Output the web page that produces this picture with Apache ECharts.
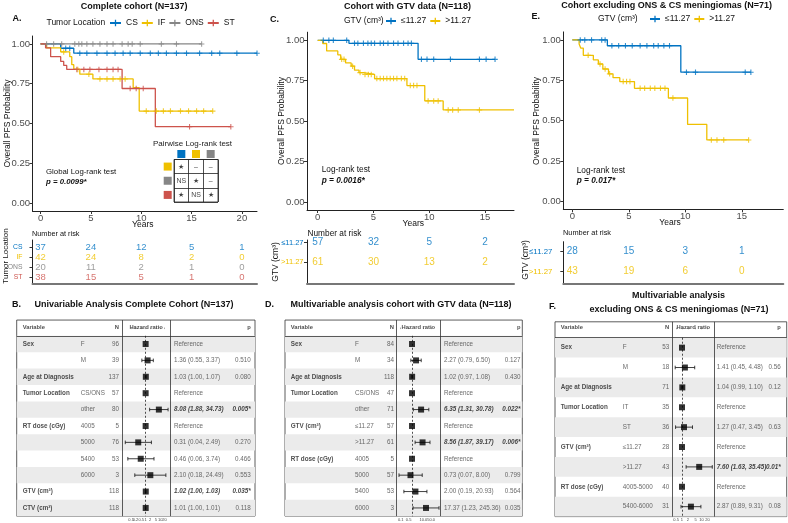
<!DOCTYPE html>
<html><head><meta charset="utf-8">
<script src="https://cdn.jsdelivr.net/npm/echarts@6/dist/echarts.min.js"></script>
<style>html,body{margin:0;padding:0;background:#fff}#c{width:788px;height:523px}</style>
</head><body><div id="c"></div>
<script>
// ================= DATA =================
// Panel A : KM by tumor location (step times, survival after step, censor times)
const aCsT = [0, 2.0, 3.3, 21.5];
const aCsS = [1, 0.973, 0.942, 0.942];
const aCsCens = [2.5, 2.9, 3.9, 4.6, 5.6, 6.6, 7.4, 8.2, 8.9, 9.9, 10.9, 11.7, 12.5, 13.5, 14.5, 15.8, 17.0, 17.8, 19.5, 21.5];
const aIfT = [0, 0.6, 2.0, 2.9, 3.1, 3.3, 3.9, 5.2, 9.2, 9.8, 17.1];
const aIfS = [1, 0.975, 0.95, 0.92, 0.87, 0.84, 0.81, 0.78, 0.725, 0.578, 0.578];
const aIfCens = [2.3, 3.7, 4.8, 5.9, 6.6, 7.2, 7.9, 8.4, 10.5, 11.5, 12.2, 12.9, 13.9, 14.7, 15.5, 16.2, 17.1];
const aOnsT = [0, 16.0];
const aOnsS = [1, 1];
const aOnsCens = [0.6, 1.3, 2.1, 3.4, 3.8, 4.1, 4.6, 5.2, 5.9, 6.6, 7.2, 8.1, 8.7, 9.1, 9.9, 12.0, 13.5, 16.0];
const aStT = [0, 0.5, 1.0, 2.0, 2.3, 2.6, 8.1, 11.4, 18.9];
const aStS = [1, 0.975, 0.92, 0.89, 0.865, 0.84, 0.72, 0.48, 0.48];
const aStCens = [3.6, 4.3, 4.9, 5.8, 6.6, 7.2, 7.7, 8.9, 9.5, 10.2, 14.8, 18.9];
const aXTicks = [0, 5, 10, 15, 20];
const aRiskRows = ['CS', 'IF', 'ONS', 'ST'];
const aRiskCS = [37, 24, 12, 5, 1];
const aRiskIF = [42, 24, 8, 2, 0];
const aRiskONS = [20, 11, 2, 1, 0];
const aRiskST = [38, 15, 5, 1, 0];
const pairCols = ['CS', 'IF', 'ONS'];
const pairRows = ['IF', 'ONS', 'ST'];
const pairVals = [['★', '–', '–'], ['NS', '★', '–'], ['★', 'NS', '★']];

// Panel C : KM by GTV (cohort with GTV data)
const cLoT = [0, 2.8, 9.0, 15.9];
const cLoS = [1, 0.981, 0.882, 0.882];
const cLoCens = [0.5, 1.0, 1.4, 2.6, 3.3, 3.6, 4.1, 4.5, 4.8, 5.1, 5.6, 5.9, 6.3, 6.8, 7.2, 7.7, 8.1, 8.4, 9.3, 9.8, 10.4, 11.9, 14.5, 15.1, 15.9];
const cHiT = [0, 0.45, 0.8, 1.8, 2.06, 2.5, 3.0, 3.3, 3.7, 4.1, 5.1, 8.0, 9.6, 11.25, 17.6];
const cHiS = [1, 0.98, 0.934, 0.91, 0.882, 0.86, 0.84, 0.815, 0.80, 0.789, 0.763, 0.72, 0.625, 0.569, 0.569];
const cHiCens = [2.15, 2.36, 3.13, 3.8, 4.24, 4.54, 4.8, 5.3, 5.6, 5.9, 6.2, 6.5, 6.8, 7.1, 7.5, 7.8, 8.3, 8.6, 8.9, 9.9, 10.4, 10.8, 11.7, 12.1, 12.6, 14.5];
const cXTicks = [0, 5, 10, 15];
const gtvRows = ['≤11.27', '>11.27'];
const cRiskLo = [57, 32, 5, 2];
const cRiskHi = [61, 30, 13, 2];

// Panel E : KM by GTV (excluding ONS & CS)
const eLoT = [0, 3.1, 9.6, 15.8];
const eLoS = [1, 0.964, 0.80, 0.80];
const eLoCens = [0.7, 1.1, 1.7, 2.6, 2.9, 3.5, 4.1, 4.7, 5.3, 6.0, 6.6, 7.2, 7.6, 8.1, 8.6, 10.1, 10.9, 15.3, 15.8];
const eHiT = [0, 0.6, 0.74, 0.97, 1.86, 2.3, 2.7, 3.2, 3.6, 4.2, 5.5, 8.5, 10.2, 11.9, 15.6];
const eHiS = [1, 0.975, 0.95, 0.905, 0.876, 0.851, 0.82, 0.79, 0.766, 0.742, 0.70, 0.64, 0.476, 0.38, 0.38];
const eHiCens = [1.4, 2.45, 2.9, 3.3, 4.5, 4.8, 5.1, 6.0, 6.4, 6.9, 7.3, 7.8, 8.2, 8.9, 12.3, 12.8, 13.4, 15.6];
const eRiskLo = [28, 15, 3, 1];
const eRiskHi = [43, 19, 6, 0];
const kmYTicks = [0, 0.25, 0.5, 0.75, 1];

// Panel B : univariable
const bVar = ['Sex', '', 'Age at Diagnosis', 'Tumor Location', '', 'RT dose (cGy)', '', '', '', 'GTV (cm³)', 'CTV (cm³)'];
const bSub = ['F', 'M', '', 'CS/ONS', 'other', '4005', '5000', '5400', '6000', '', ''];
const bN = [96, 39, 137, 57, 80, 5, 76, 53, 3, 118, 118];
const bHR = [1, 1.36, 1.03, 1, 8.08, 1, 0.31, 0.46, 2.10, 1.02, 1.01];
const bLo = [null, 0.55, 1.00, null, 1.88, null, 0.04, 0.06, 0.18, 1.00, 1.00];
const bHi = [null, 3.37, 1.07, null, 34.73, null, 2.49, 3.74, 24.49, 1.03, 1.01];
const bP = ['', '0.510', '0.080', '', '0.005*', '', '0.270', '0.466', '0.553', '0.035*', '0.118'];
const bTicks = [0.05, 0.1, 0.2, 0.5, 1, 2, 5, 10, 20];

// Panel D : multivariable, GTV cohort
const dVar = ['Sex', '', 'Age at Diagnosis', 'Tumor Location', '', 'GTV (cm³)', '', 'RT dose (cGy)', '', '', ''];
const dSub = ['F', 'M', '', 'CS/ONS', 'other', '≤11.27', '>11.27', '4005', '5000', '5400', '6000'];
const dN = [84, 34, 118, 47, 71, 57, 61, 5, 57, 53, 3];
const dHR = [1, 2.27, 1.02, 1, 6.35, 1, 8.56, 1, 0.73, 2.00, 17.37];
const dLo = [null, 0.79, 0.97, null, 1.31, null, 1.87, null, 0.07, 0.19, 1.23];
const dHi = [null, 6.50, 1.08, null, 30.78, null, 39.17, null, 8.00, 20.93, 245.36];
const dP = ['', '0.127', '0.430', '', '0.022*', '', '0.006*', '', '0.799', '0.564', '0.035'];
const dTicks = [0.1, 0.5, 10, 50];

// Panel F : multivariable, excluding ONS & CS
const fVar = ['Sex', '', 'Age at Diagnosis', 'Tumor Location', '', 'GTV (cm³)', '', 'RT dose (cGy)', ''];
const fSub = ['F', 'M', '', 'IT', 'ST', '≤11.27', '>11.27', '4005-5000', '5400-6000'];
const fN = [53, 18, 71, 35, 36, 28, 43, 40, 31];
const fHR = [1, 1.41, 1.04, 1, 1.27, 1, 7.60, 1, 2.87];
const fLo = [null, 0.45, 0.99, null, 0.47, null, 1.63, null, 0.89];
const fHi = [null, 4.48, 1.10, null, 3.45, null, 35.45, null, 9.31];
const fP = ['', '0.56', '0.12', '', '0.63', '', '0.01*', '', '0.08'];
const fTicks = [0.5, 1, 2, 5, 10, 20];

// ================= STYLE / LAYOUT =================
const C_BLUE = '#0073C2', C_YEL = '#EFC000', C_GRAY = '#868686', C_RED = '#CD534C';
const FONT = "'Liberation Sans', Arial, Helvetica, sans-serif";
const PLUS = 'path://M0.4,0H0.6V0.4H1V0.6H0.6V1H0.4V0.6H0V0.4H0.4Z';

const grids = [], xAxes = [], yAxes = [], series = [], graphics = [];

function T(x, y, text, size, o) {
  o = o || {};
  graphics.push({
    type: 'text', x: x, y: y, rotation: o.rot || 0, silent: true, z: 50,
    style: {
      text: text, fontFamily: FONT, fontSize: size, fontWeight: o.w || 'normal',
      fontStyle: o.it ? 'italic' : 'normal', fill: o.c || '#111',
      align: o.a || 'left', textAlign: o.a || 'left',
      verticalAlign: 'middle', textVerticalAlign: 'middle'
    }
  });
}

function survAt(Ts, Ss, t) { let s = Ss[0]; for (let i = 0; i < Ts.length; i++) { if (Ts[i] <= t) s = Ss[i]; } return s; }

function km(gi, name, Ts, Ss, cens, color) {
  series.push({
    type: 'line', name: name, xAxisIndex: gi, yAxisIndex: gi, step: 'end',
    data: Ts.map((t, i) => [t, Ss[i]]), symbol: PLUS, showSymbol: false, silent: true,
    lineStyle: { color: color, width: 1.3 }, itemStyle: { color: color }, z: 3, emphasis: { disabled: true }
  });
  series.push({
    type: 'scatter', name: name + ' censored', xAxisIndex: gi, yAxisIndex: gi,
    data: cens.map(t => [t, survAt(Ts, Ss, t)]), symbol: PLUS, symbolSize: 5.5, silent: true,
    itemStyle: { color: color }, z: 4, emphasis: { disabled: true }
  });
}

function kmAxes(gi, g, xmin, xmax, xticks) {
  grids[gi] = g;
  xAxes[gi] = {
    type: 'value', gridIndex: gi, min: xmin, max: xmax,
    axisLine: { show: true, onZero: false, lineStyle: { color: '#222', width: 1 } },
    axisTick: { show: true, customValues: xticks, length: 3, lineStyle: { color: '#333' } },
    axisLabel: { customValues: xticks, fontSize: 9.5, color: '#4D4D4D', margin: 2.5, fontFamily: FONT },
    splitLine: { show: false }
  };
  yAxes[gi] = {
    type: 'value', gridIndex: gi, min: -0.05, max: 1.05,
    axisLine: { show: true, onZero: false, lineStyle: { color: '#222', width: 1 } },
    axisTick: { show: true, customValues: kmYTicks, length: 3, lineStyle: { color: '#333' } },
    axisLabel: { customValues: kmYTicks, formatter: v => v.toFixed(2), fontSize: 9.5, color: '#4D4D4D', margin: 2.5, fontFamily: FONT },
    splitLine: { show: false }
  };
}

function riskAxes(gi, g, xmin, xmax, ymin, ymax, labels, colors, margin, fs) {
  grids[gi] = g;
  xAxes[gi] = {
    type: 'value', gridIndex: gi, min: xmin, max: xmax,
    axisLine: { show: true, onZero: false, lineStyle: { color: '#777', width: 2 } },
    axisTick: { show: false }, axisLabel: { show: false }, splitLine: { show: false }
  };
  const rich = {};
  labels.forEach((l, i) => { rich['r' + i] = { color: colors[i], fontSize: fs, fontFamily: FONT }; });
  const idx = labels.map((_, i) => i);
  yAxes[gi] = {
    type: 'value', gridIndex: gi, min: ymin, max: ymax, inverse: true,
    axisLine: { show: true, onZero: false, lineStyle: { color: '#222', width: 1 } },
    axisTick: { show: true, customValues: idx, length: 3, lineStyle: { color: '#333' } },
    axisLabel: { customValues: idx, formatter: v => '{r' + Math.round(v) + '|' + labels[Math.round(v)] + '}', rich: rich, margin: margin },
    splitLine: { show: false }
  };
}

function riskSeries(gi, times, counts, row, color, fs) {
  series.push({
    type: 'scatter', xAxisIndex: gi, yAxisIndex: gi, symbolSize: 0, silent: true, z: 5,
    data: times.map((t, i) => [t, row, counts[i]]),
    label: { show: true, position: 'inside', formatter: p => String(p.value[2]), color: color, fontSize: fs, fontFamily: FONT }
  });
}

// ---------- Panel A ----------
kmAxes(0, { left: 32.5, top: 36, width: 224.5, height: 175 }, -0.8, 21.5, aXTicks);
km(0, 'CS', aCsT, aCsS, aCsCens, C_BLUE);
km(0, 'IF', aIfT, aIfS, aIfCens, C_YEL);
km(0, 'ONS', aOnsT, aOnsS, aOnsCens, C_GRAY);
km(0, 'ST', aStT, aStS, aStCens, C_RED);
riskAxes(1, { left: 32.5, top: 240, width: 224.5, height: 43.3 }, -0.8, 21.5, -0.7, 3.63, aRiskRows, [C_BLUE, C_YEL, C_GRAY, C_RED], 10, 6.8);
riskSeries(1, aXTicks, aRiskCS, 0, C_BLUE, 9.5);
riskSeries(1, aXTicks, aRiskIF, 1, C_YEL, 9.5);
riskSeries(1, aXTicks, aRiskONS, 2, C_GRAY, 9.5);
riskSeries(1, aXTicks, aRiskST, 3, C_RED, 9.5);

// ---------- Panel C ----------
kmAxes(2, { left: 307, top: 32.2, width: 207, height: 177.8 }, -0.96, 17.6, cXTicks);
km(2, '≤11.27', cLoT, cLoS, cLoCens, C_BLUE);
km(2, '>11.27', cHiT, cHiS, cHiCens, C_YEL);
riskAxes(3, { left: 307, top: 240, width: 207, height: 43.3 }, -0.96, 17.6, -0.14, 2.07, gtvRows, [C_BLUE, C_YEL], 3.5, 7.5);
riskSeries(3, cXTicks, cRiskLo, 0, C_BLUE, 10);
riskSeries(3, cXTicks, cRiskHi, 1, C_YEL, 10);

// ---------- Panel E ----------
kmAxes(4, { left: 563.3, top: 31.9, width: 220, height: 177.4 }, -0.8, 18.67, cXTicks);
km(4, '≤11.27', eLoT, eLoS, eLoCens, C_BLUE);
km(4, '>11.27', eHiT, eHiS, eHiCens, C_YEL);
riskAxes(5, { left: 563.3, top: 241.7, width: 220, height: 41.6 }, -0.8, 18.67, -0.5, 1.58, gtvRows, [C_BLUE, C_YEL], 11, 7.8);
riskSeries(5, cXTicks, eRiskLo, 0, C_BLUE, 10);
riskSeries(5, cXTicks, eRiskHi, 1, C_YEL, 10);

// ---------- Pairwise table (in A) ----------
const sqColors = { CS: C_BLUE, IF: C_YEL, ONS: C_GRAY, ST: C_RED };
const sqRich = {};
Object.keys(sqColors).forEach(k => { sqRich[k] = { backgroundColor: sqColors[k], width: 8, height: 8, fontSize: 1 }; });
grids[6] = { left: 174, top: 159.5, width: 44, height: 42.5, show: true, borderColor: '#222', borderWidth: 0.8 };
xAxes[6] = {
  type: 'category', gridIndex: 6, data: pairCols, position: 'top',
  axisLine: { show: false }, axisTick: { show: false },
  splitLine: { show: true, interval: 0, lineStyle: { color: '#222', width: 0.8 } },
  axisLabel: { interval: 0, margin: 1.5, formatter: v => '{' + v + '| }', rich: sqRich }
};
yAxes[6] = {
  type: 'category', gridIndex: 6, data: pairRows, inverse: true,
  axisLine: { show: false }, axisTick: { show: false },
  splitLine: { show: true, interval: 0, lineStyle: { color: '#222', width: 0.8 } },
  axisLabel: { interval: 0, margin: 2.3, formatter: v => '{' + v + '| }', rich: sqRich }
};
const pairData = [];
pairRows.forEach((r, ri) => pairCols.forEach((c, ci) => pairData.push([ci, ri, pairVals[ri][ci]])));
series.push({
  type: 'scatter', xAxisIndex: 6, yAxisIndex: 6, symbolSize: 0, silent: true, z: 5, data: pairData,
  label: { show: true, position: 'inside', formatter: p => p.value[2], fontSize: 7, color: '#111', fontFamily: FONT }
});

// ---------- Forest plots ----------
function forest(o) {
  const gT = o.gi, gH = o.gi + 1, c = o.col;
  grids[gT] = { left: o.left, top: o.top, width: o.width, height: o.height, show: true, borderColor: '#333', borderWidth: 0.8 };
  grids[gH] = { left: o.left + c.div1, top: o.top, width: c.div2 - c.div1, height: o.height };
  xAxes[gT] = { type: 'value', gridIndex: gT, min: 0, max: o.width, show: false, splitLine: { show: false } };
  yAxes[gT] = { type: 'value', gridIndex: gT, min: o.yMin, max: o.yMax, inverse: true, show: false, splitLine: { show: false } };
  xAxes[gH] = {
    type: 'log', gridIndex: gH, min: o.hrMin, max: o.hrMax, logBase: 10,
    axisLine: { show: false },
    axisTick: { show: true, customValues: o.ticks, length: 1.5, lineStyle: { color: '#555', width: 0.5 } },
    axisLabel: { customValues: o.ticks, fontSize: 4, margin: 1.5, color: '#444', formatter: o.tickFmt, fontFamily: FONT },
    splitLine: { show: false }
  };
  yAxes[gH] = { type: 'value', gridIndex: gH, min: o.yMin, max: o.yMax, inverse: true, show: false, splitLine: { show: false } };
  const n = o.vars.length;
  const shade = [];
  for (let i = 1; i <= n; i += 2) shade.push([{ yAxis: i - 0.5 }, { yAxis: i + 0.5 }]);
  series.push({
    type: 'scatter', xAxisIndex: gT, yAxisIndex: gT, symbolSize: 0, silent: true, z: 1, data: [[0, 0]],
    markArea: { silent: true, itemStyle: { color: '#EBEBEB' }, data: shade, label: { show: false } }
  });
  series.push({
    type: 'scatter', xAxisIndex: gT, yAxisIndex: gT, symbolSize: 0, silent: true, z: 2, data: [[0, 0]],
    markLine: { silent: true, symbol: 'none', label: { show: false }, lineStyle: { color: '#333', width: 0.8, type: 'solid' },
      data: [{ xAxis: c.div1 }, { xAxis: c.div2 }, { yAxis: 0.5 }] }
  });
  const fs = o.fs;
  const txtS = (data, lab) => series.push({
    type: 'scatter', xAxisIndex: gT, yAxisIndex: gT, symbolSize: 0, silent: true, z: 5, data: data,
    label: Object.assign({ show: true, position: 'inside', formatter: p => String(p.value[2]), fontFamily: FONT, fontSize: fs, color: '#444' }, lab)
  });
  // header
  txtS([[c.var, 0, 'Variable']], { align: 'left', fontWeight: 'bold', color: '#222', fontSize: fs - 0.5 });
  txtS([[c.nR, 0, 'N'], [c.pR, 0, 'p']], { align: 'right', fontWeight: 'bold', color: '#222', fontSize: fs - 0.5 });
  txtS([[(c.div1 + c.div2) / 2, 0, 'Hazard ratio']], { align: 'center', fontWeight: 'bold', color: '#222', fontSize: fs - 0.5 });
  // body
  txtS(o.vars.map((v, i) => [c.var, i + 1, v]).filter(d => d[2]), { align: 'left', fontWeight: 'bold', color: '#222' });
  txtS(o.subs.map((v, i) => [c.sub, i + 1, v]).filter(d => d[2]), { align: 'left' });
  txtS(o.ns.map((v, i) => [c.nR, i + 1, v]), { align: 'right' });
  const sig = i => o.ps[i].indexOf('*') >= 0;
  const sigLab = { fontWeight: 'bold', fontStyle: 'italic', color: '#111' };
  txtS(o.hrs.map((h, i) => {
    const t = o.los[i] == null ? 'Reference' : h.toFixed(2) + ' (' + o.los[i].toFixed(2) + ', ' + o.his[i].toFixed(2) + ')';
    return sig(i) ? { value: [c.est, i + 1, t], label: sigLab } : [c.est, i + 1, t];
  }), { align: 'left' });
  txtS(o.ps.map((p, i) => sig(i) ? { value: [c.pR, i + 1, p], label: sigLab } : [c.pR, i + 1, p]).filter(d => (d.value || d)[2]), { align: 'right' });
  // CI
  const ci = [];
  o.hrs.forEach((h, i) => { if (o.los[i] != null) ci.push([o.los[i], o.his[i], i + 1]); });
  series.push({
    type: 'custom', xAxisIndex: gH, yAxisIndex: gH, silent: true, z: 6, data: ci, encode: { x: [0, 1], y: 2 },
    renderItem: (params, api) => {
      const a = api.coord([api.value(0), api.value(2)]);
      const b = api.coord([api.value(1), api.value(2)]);
      const cap = 1.8, st = { stroke: '#111', lineWidth: 0.8 };
      return { type: 'group', children: [
        { type: 'line', shape: { x1: a[0], y1: a[1], x2: b[0], y2: b[1] }, style: st },
        { type: 'line', shape: { x1: a[0], y1: a[1] - cap, x2: a[0], y2: a[1] + cap }, style: st },
        { type: 'line', shape: { x1: b[0], y1: b[1] - cap, x2: b[0], y2: b[1] + cap }, style: st }
      ] };
    }
  });
  series.push({
    type: 'scatter', xAxisIndex: gH, yAxisIndex: gH, silent: true, z: 7,
    data: o.hrs.map((h, i) => [h, i + 1]), symbol: 'rect', symbolSize: o.sq, itemStyle: { color: '#000' },
    markLine: { silent: true, symbol: 'none', label: { show: false }, lineStyle: { color: '#222', width: 0.8, type: [2, 2] },
      data: [[{ coord: [1, 0.5] }, { coord: [1, o.yMax] }]] }
  });
}

forest({ gi: 7, left: 16.7, top: 320.05, width: 238.3, height: 196.1, yMin: -0.46, yMax: 11.5,
  col: { var: 6, sub: 64, nR: 102.3, div1: 105.6, div2: 153.3, est: 157.3, pR: 234 },
  hrMin: 0.025, hrMax: 47, ticks: bTicks, tickFmt: v => String(v), fs: 6.3, sq: 6,
  vars: bVar, subs: bSub, ns: bN, hrs: bHR, los: bLo, his: bHi, ps: bP });
forest({ gi: 9, left: 285, top: 320.05, width: 237.3, height: 196.1, yMin: -0.46, yMax: 11.5,
  col: { var: 5.7, sub: 70, nR: 109, div1: 111, div2: 155.7, est: 159, pR: 235.5 },
  hrMin: 0.038, hrMax: 347, ticks: dTicks, tickFmt: v => v >= 1 ? v.toFixed(1) : String(v), fs: 6.3, sq: 6,
  vars: dVar, subs: dSub, ns: dN, hrs: dHR, los: dLo, his: dHi, ps: dP });
forest({ gi: 11, left: 555, top: 321.8, width: 231.7, height: 194.8, yMin: -0.3, yMax: 9.5,
  col: { var: 5.7, sub: 67.7, nR: 114.3, div1: 117.3, div2: 159.3, est: 161.7, pR: 225.7 },
  hrMin: 0.32, hrMax: 45, ticks: fTicks, tickFmt: v => String(v), fs: 6.3, sq: 6,
  vars: fVar, subs: fSub, ns: fN, hrs: fHR, los: fLo, his: fHi, ps: fP });

// ================= TEXT =================
T(134.2, 6.5, 'Complete cohort (N=137)', 9, { a: 'center', w: 'bold' });
T(407.5, 6.5, 'Cohort with GTV data (N=118)', 9, { a: 'center', w: 'bold' });
T(666.7, 5.5, 'Cohort excluding ONS & CS meningiomas (N=71)', 9, { a: 'center', w: 'bold' });
T(12.5, 18.5, 'A.', 9, { w: 'bold' });
T(270, 19.5, 'C.', 9, { w: 'bold' });
T(531.5, 16.5, 'E.', 9, { w: 'bold' });
T(46.5, 22.7, 'Tumor Location', 8.5);
T(344, 21, 'GTV (cm³)', 8.5);
T(598, 19, 'GTV (cm³)', 8.5);
T(7.5, 123.5, 'Overall PFS Probability', 8.5, { a: 'center', rot: Math.PI / 2 });
T(281.5, 121, 'Overall PFS Probability', 8.5, { a: 'center', rot: Math.PI / 2 });
T(536.5, 121, 'Overall PFS Probability', 8.5, { a: 'center', rot: Math.PI / 2 });
T(142.8, 224.5, 'Years', 8.5, { a: 'center' });
T(413.3, 223.3, 'Years', 8.5, { a: 'center' });
T(670, 223, 'Years', 8.5, { a: 'center' });
T(46, 172.3, 'Global Log-rank test', 7.8);
T(46, 182, 'p = 0.0099*', 7.8, { w: 'bold', it: true });
T(321.7, 170, 'Log-rank test', 8.3);
T(321.7, 181, 'p = 0.0016*', 8.3, { w: 'bold', it: true });
T(576.7, 170.3, 'Log-rank test', 8.3);
T(576.7, 181, 'p = 0.017*', 8.3, { w: 'bold', it: true });
T(192.5, 144, 'Pairwise Log-rank test', 8, { a: 'center', c: '#222' });
T(32, 234, 'Number at risk', 7.3);
T(307.5, 233.3, 'Number at risk', 8.3);
T(563, 233.3, 'Number at risk', 7.4);
T(5.5, 256, 'Tumor Location', 8, { a: 'center', rot: Math.PI / 2 });
T(275.5, 262, 'GTV (cm³)', 8.5, { a: 'center', rot: Math.PI / 2 });
T(526, 260, 'GTV (cm³)', 8.5, { a: 'center', rot: Math.PI / 2 });
T(12, 305, 'B.', 9, { w: 'bold' });
T(134, 305, 'Univariable Analysis Complete Cohort (N=137)', 9, { a: 'center', w: 'bold' });
T(265, 305, 'D.', 9, { w: 'bold' });
T(401, 305, 'Multivariable analysis cohort with GTV data (N=118)', 9, { a: 'center', w: 'bold' });
T(549, 307, 'F.', 9, { w: 'bold' });
T(678.5, 295.5, 'Multivariable analysis', 9, { a: 'center', w: 'bold' });
T(679, 310, 'excluding ONS & CS meningiomas (N=71)', 9, { a: 'center', w: 'bold' });

const legText = { fontSize: 8.5, color: '#111', fontFamily: FONT };
const option = {
  animation: false,
  backgroundColor: '#fff',
  textStyle: { fontFamily: FONT },
  grid: grids, xAxis: xAxes, yAxis: yAxes, series: series,
  legend: [
    { left: 109, top: 18.5, itemWidth: 11, itemHeight: 8, itemGap: 3, padding: 0, textStyle: legText, selectedMode: false, data: ['CS', 'IF', 'ONS', 'ST'] },
    { left: 385, top: 16.5, itemWidth: 10, itemHeight: 8, itemGap: 3, padding: 0, textStyle: legText, selectedMode: false, data: ['≤11.27', '>11.27'] },
    { left: 649, top: 14.5, itemWidth: 10, itemHeight: 8, itemGap: 3, padding: 0, textStyle: legText, selectedMode: false, data: ['≤11.27', '>11.27'] }
  ],
  graphic: { elements: graphics }
};
const chart = echarts.init(document.getElementById('c'), null, { renderer: 'canvas' });
chart.setOption(option);
</script>
</body></html>
